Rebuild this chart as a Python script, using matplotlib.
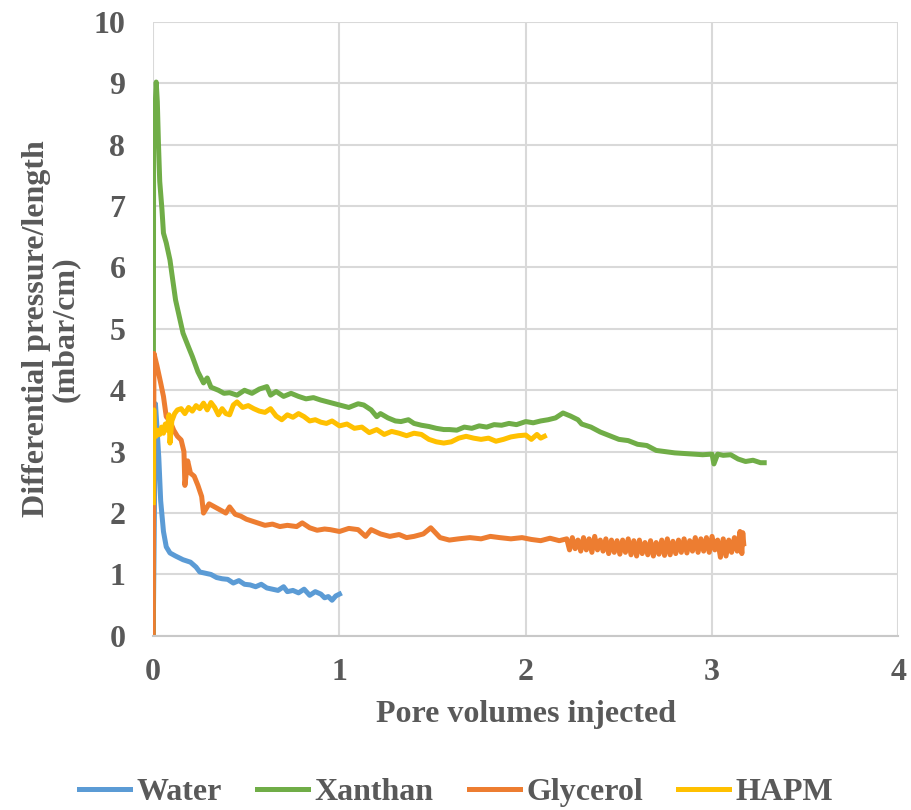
import matplotlib
matplotlib.use("Agg")
import matplotlib.pyplot as plt

plt.rcParams['font.family'] = ['Liberation Serif', 'DejaVu Serif']
plt.rcParams['font.weight'] = 'bold'

# series
water_x = [0, 0.012, 0.02, 0.03, 0.04, 0.055, 0.07, 0.09, 0.12, 0.16,
           0.2, 0.23, 0.25, 0.28, 0.31, 0.34, 0.37, 0.40, 0.43, 0.46,
           0.49, 0.52, 0.55, 0.58, 0.61, 0.64, 0.67, 0.70, 0.72, 0.75,
           0.78, 0.81, 0.84, 0.87, 0.90, 0.92, 0.94, 0.96, 0.98, 1.0]
water_y = [0, 3.78, 3.4, 2.9, 2.2, 1.7, 1.45, 1.35, 1.3, 1.24,
           1.2, 1.12, 1.04, 1.02, 1.0, 0.95, 0.93, 0.92, 0.86, 0.90,
           0.84, 0.83, 0.8, 0.84, 0.78, 0.76, 0.74, 0.80, 0.72, 0.74,
           0.70, 0.76, 0.66, 0.72, 0.68, 0.62, 0.64, 0.58, 0.65, 0.68]

xanthan_x = [0.0, 0.002, 0.016, 0.022, 0.028, 0.035, 0.047, 0.055, 0.07, 0.09,
             0.1, 0.12, 0.14, 0.16, 0.19, 0.21, 0.24, 0.27, 0.29, 0.31,
             0.35, 0.38, 0.41, 0.45, 0.49, 0.53, 0.57, 0.61, 0.63, 0.66,
             0.70, 0.74, 0.78, 0.82, 0.86, 0.90, 0.95, 1.0, 1.05, 1.1,
             1.13, 1.17, 1.2, 1.22, 1.26, 1.3, 1.33, 1.37, 1.40, 1.44,
             1.48, 1.52, 1.56, 1.59, 1.63, 1.67, 1.71, 1.75, 1.79, 1.83,
             1.87, 1.91, 1.95, 2.0, 2.04, 2.08, 2.12, 2.16, 2.2, 2.24,
             2.28, 2.3, 2.35, 2.4, 2.45, 2.5, 2.55, 2.6, 2.65, 2.7,
             2.75, 2.8, 2.85, 2.9, 2.95, 3.0, 3.01, 3.03, 3.06, 3.1,
             3.14, 3.18, 3.22, 3.26, 3.28]
xanthan_y = [0.0, 8.0, 9.02, 8.7, 8.03, 7.4, 6.94, 6.56, 6.4, 6.12,
             5.9, 5.47, 5.2, 4.93, 4.7, 4.55, 4.3, 4.12, 4.2, 4.05,
             4.0, 3.95, 3.96, 3.92, 4.0, 3.95, 4.02, 4.06, 3.92, 3.98,
             3.9, 3.95, 3.9, 3.86, 3.88, 3.84, 3.8, 3.76, 3.72, 3.78,
             3.76, 3.68, 3.57, 3.62, 3.55, 3.5, 3.49, 3.52, 3.46, 3.43,
             3.41, 3.38, 3.36, 3.36, 3.35, 3.4, 3.38, 3.42, 3.4, 3.44,
             3.43, 3.46, 3.44, 3.49, 3.47, 3.5, 3.52, 3.55, 3.63, 3.58,
             3.52, 3.45, 3.4, 3.32, 3.26, 3.2, 3.18, 3.12, 3.1, 3.02,
             3.0, 2.98, 2.97, 2.96, 2.95, 2.96, 2.80, 2.96, 2.94, 2.95,
             2.88, 2.84, 2.86, 2.82, 2.82]

glycerol_x = [0.0, 0.004, 0.02, 0.04, 0.055, 0.07, 0.09, 0.11, 0.13, 0.15,
              0.165, 0.17, 0.185, 0.2, 0.22, 0.24, 0.26, 0.27, 0.3, 0.33,
              0.36, 0.39, 0.41, 0.44, 0.47, 0.5, 0.53, 0.56, 0.6, 0.64,
              0.68, 0.72, 0.77, 0.8, 0.84, 0.88, 0.92, 0.95, 1.0, 1.05,
              1.1, 1.14, 1.17, 1.22, 1.27, 1.32, 1.36, 1.40, 1.45, 1.49,
              1.54, 1.59, 1.64, 1.7, 1.76, 1.81, 1.86, 1.92, 1.98, 2.03,
              2.08, 2.13, 2.18,
              2.22, 2.235, 2.25, 2.265, 2.28, 2.295, 2.31, 2.325, 2.34, 2.355,
              2.37, 2.385, 2.40, 2.415, 2.43, 2.445, 2.46, 2.475, 2.49, 2.505,
              2.52, 2.535, 2.55, 2.565, 2.58, 2.595, 2.61, 2.625, 2.64, 2.655,
              2.67, 2.685, 2.70, 2.715, 2.73, 2.745, 2.76, 2.775, 2.79, 2.805,
              2.82, 2.835, 2.85, 2.865, 2.88, 2.895, 2.91, 2.925, 2.94, 2.955,
              2.97, 2.985, 3.00, 3.015, 3.03, 3.045, 3.06, 3.075, 3.09, 3.105,
              3.12, 3.135, 3.15, 3.16, 3.165, 3.17]
glycerol_y = [0.0, 4.6, 4.4, 4.12, 3.9, 3.57, 3.5, 3.35, 3.25, 3.19,
              3.0, 2.45, 2.85, 2.65, 2.6, 2.45, 2.27, 2.0, 2.15, 2.1,
              2.05, 2.0, 2.1, 1.98, 1.95, 1.9, 1.87, 1.84, 1.8, 1.82,
              1.78, 1.8, 1.78, 1.84, 1.76, 1.72, 1.74, 1.73, 1.7, 1.75,
              1.73, 1.62, 1.73, 1.66, 1.62, 1.65, 1.6, 1.62, 1.66, 1.76,
              1.6, 1.56, 1.58, 1.6, 1.58, 1.62, 1.6, 1.58, 1.6, 1.57,
              1.55, 1.59, 1.55,
              1.58, 1.40, 1.60, 1.42, 1.56, 1.38, 1.60, 1.40, 1.58, 1.36,
              1.62, 1.40, 1.56, 1.38, 1.58, 1.34, 1.56, 1.36, 1.55, 1.33,
              1.56, 1.36, 1.58, 1.32, 1.55, 1.30, 1.56, 1.34, 1.52, 1.32,
              1.55, 1.30, 1.52, 1.33, 1.56, 1.31, 1.58, 1.32, 1.54, 1.34,
              1.56, 1.36, 1.58, 1.35, 1.55, 1.38, 1.60, 1.36, 1.58, 1.38,
              1.60, 1.36, 1.62, 1.40, 1.56, 1.28, 1.58, 1.30, 1.56, 1.36,
              1.60, 1.38, 1.70, 1.34, 1.68, 1.50]

hapm_x = [0.0, 0.003, 0.006, 0.015, 0.025, 0.035, 0.045, 0.055, 0.065, 0.075,
          0.085, 0.09, 0.1, 0.115, 0.13, 0.15, 0.17, 0.19, 0.21, 0.23,
          0.25, 0.27, 0.29, 0.31, 0.33, 0.35, 0.37, 0.39, 0.41, 0.43, 0.45,
          0.48, 0.51, 0.54, 0.57, 0.6, 0.63, 0.66, 0.69, 0.72, 0.75,
          0.78, 0.81, 0.84, 0.87, 0.9, 0.93, 0.96,
          1.0, 1.04, 1.08, 1.12, 1.16, 1.2, 1.24, 1.28, 1.32, 1.36,
          1.40, 1.44, 1.48, 1.52, 1.56, 1.6, 1.64, 1.68, 1.72, 1.76,
          1.8, 1.84, 1.88, 1.92, 1.96, 2.0, 2.03, 2.06, 2.08, 2.1]
hapm_y = [2.17, 3.68, 3.3, 3.25, 3.35, 3.28, 3.4, 3.3, 3.45, 3.35,
          3.6, 3.14, 3.5, 3.62, 3.68, 3.7, 3.62, 3.72, 3.66, 3.75,
          3.7, 3.79, 3.68, 3.8, 3.72, 3.6, 3.7, 3.62, 3.6, 3.76, 3.81,
          3.72, 3.75, 3.7, 3.66, 3.64, 3.7, 3.58, 3.52, 3.6, 3.56,
          3.62, 3.57, 3.5, 3.52, 3.48, 3.46, 3.5,
          3.42, 3.45, 3.38, 3.4, 3.31, 3.36, 3.28, 3.33, 3.3, 3.26,
          3.3, 3.28, 3.2, 3.16, 3.14, 3.16, 3.22, 3.25, 3.22, 3.2,
          3.22, 3.17, 3.2, 3.24, 3.26, 3.27, 3.2, 3.28, 3.22, 3.25]

series_names = ['Water', 'Xanthan', 'Glycerol', 'HAPM']
series_colors = ['#5B9BD5', '#70AD47', '#ED7D31', '#FFC000']
text_color = '#595959'

fig = plt.figure(figsize=(9.12, 8.10), dpi=100)
ax = fig.add_axes([0.168, 0.215, 0.817, 0.758])

data = [(water_x, water_y), (xanthan_x, xanthan_y),
        (glycerol_x, glycerol_y), (hapm_x, hapm_y)]
for (xs, ys), name, col in zip(data, series_names, series_colors):
    ax.plot(xs, ys, color=col, lw=3.6, label=name, solid_joinstyle='round')

ax.set_xlim(0, 4)
ax.set_ylim(0, 10)
ax.set_xticks(range(0, 5))
ax.set_yticks(range(0, 11))
ax.grid(True, color='#d9d9d9', lw=1.5)
ax.set_axisbelow(True)
for s in ['top', 'right', 'left']:
    ax.spines[s].set_visible(False)
ax.spines['bottom'].set_color('#c8c8c8')
ax.spines['bottom'].set_linewidth(1.5)
ax.tick_params(axis='both', length=0, labelsize=23, labelcolor=text_color)
ax.tick_params(axis='x', pad=16)
ax.tick_params(axis='y', pad=20)

ax.set_xlabel('Pore volumes injected', fontsize=23, color=text_color,
              fontweight='bold')
ax.xaxis.set_label_coords(0.5, -0.104)
ax.set_ylabel('Differential pressure/length\n(mbar/cm)', fontsize=23,
              color=text_color, fontweight='bold', multialignment='center',
              linespacing=1.0)
ax.yaxis.set_label_coords(-0.098, 0.5)

leg = fig.legend(loc='lower center', bbox_to_anchor=(0.5, -0.032), ncol=4,
                 frameon=False, fontsize=23, handlelength=1.6,
                 columnspacing=1.1, handletextpad=0.2)
for line in leg.get_lines():
    line.set_linewidth(3.6)
for t in leg.get_texts():
    t.set_color(text_color)

fig.savefig('out.png', dpi=100)
